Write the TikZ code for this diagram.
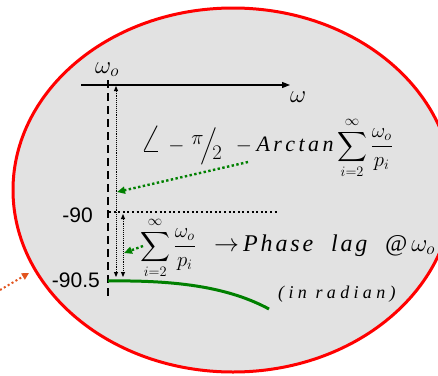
\documentclass[tikz,border=0pt]{standalone}
\usepackage{exscale}
\usepackage{fontspec}
\setmainfont{Liberation Serif}
\newfontfamily\labelfont{Liberation Sans}
\newfontfamily\widefont[LetterSpace=12]{Liberation Serif}
\newfontfamily\widerfont[LetterSpace=24]{Liberation Serif}
\usetikzlibrary{arrows.meta}
\definecolor{lagred}{RGB}{255,0,0}
\definecolor{laggreen}{RGB}{0,128,0}
\definecolor{callout}{RGB}{226,84,30}
\definecolor{paper}{RGB}{226,226,226}

\begin{document}
\begin{tikzpicture}
  [x=1pt,y=-1pt,every node/.style={inner sep=0pt,font=\fontsize{22}{26}\selectfont},
   axis/.style={line width=1.2pt,-{Triangle[length=8pt,width=6pt]}},
   marker/.style={line width=2.6pt,dash pattern=on 8pt off 5pt},
   level/.style={line width=2pt,dash pattern=on 2pt off 2.6pt},
   span/.style={line width=0.9pt,densely dotted,{Triangle[length=5pt,width=4pt]}-{Triangle[length=5pt,width=4pt]}},
   pointer/.style={laggreen,line width=2.4pt,dash pattern=on 2.4pt off 2.4pt,-{Triangle[length=8pt,width=7pt]}}]
\useasboundingbox (0,0) rectangle (438,375);
  % zoom bubble
  \draw[lagred,line width=3pt,fill=paper] (233,190) ellipse [x radius=220,y radius=182];
  \coordinate (cfrom) at (0,290);
  \coordinate (cto) at (29,273);
  \draw[callout,line width=2pt,dash pattern=on 2pt off 2.5pt,-{Triangle[length=7pt,width=7pt]}] (cfrom) -- (cto);

  % axes
  \coordinate (ax0) at (81,85);
  \coordinate (ax1) at (290,85);
  \coordinate (mtop) at (108,80);
  \coordinate (mbot) at (108,298);
  \draw[axis] (ax0) -- (ax1);
  \draw[marker] (mtop) -- (mbot);
  \node[anchor=base west,font=\fontsize{28}{30}\selectfont] (w) at (290,102) {$\omega$};
  \node[anchor=base west,font=\fontsize{26}{30}\selectfont] (wo) at (95,73) {$\omega_o$};

  % levels
  \node[anchor=base east,font=\labelfont\fontsize{21}{24}\selectfont] (l90) at (93,222) {-90};
  \node[anchor=base east,font=\labelfont\fontsize{21}{24}\selectfont] (l905) at (100,287) {-90.5};
  \coordinate (h0) at (109,212);
  \coordinate (h1) at (279,212);
  \draw[level] (h0) -- (h1);

  % spans
  \coordinate (s1a) at (116,86);
  \coordinate (s1b) at (116,277);
  \coordinate (s2a) at (123,214);
  \coordinate (s2b) at (123,277);
  \foreach \from/\to in {s1a/s1b, s2a/s2b}
    \draw[span] (\from) -- (\to);

  % phase curve
  \coordinate (c0) at (108,281);
  \coordinate (c1) at (269,309);
  \draw[laggreen,line width=3pt] (c0) .. controls (180,280) and (230,288) .. (c1);

  % texts
  \node[anchor=west] (arg) at (140,148)
    {$\displaystyle\scalebox{1.9}{$\angle$}\mkern2mu -\mkern2mu\raisebox{0.7ex}{$\pi$}\mkern-3mu\Big/\mkern-4mu\raisebox{-0.8ex}{$2$}\mkern8mu - \mathit{A\,r\,c\,t\,a\,n}\sum_{i=2}^{\infty}\frac{\omega_o}{p_i}$};
  \node[anchor=west] (lagsum) at (140,248) {$\displaystyle\sum_{i=2}^{\infty}\frac{\omega_o}{p_i}$};
  \node[anchor=base west,font=\fontsize{24}{28}\selectfont] (lag) at (214,251)
    {$\rightarrow$\,{\widefont\itshape Phase\ \ lag\ \ @}\,$\omega_o$};
  \node[anchor=base west,font=\fontsize{18}{22}\selectfont] (unit) at (278,298) {\widerfont\itshape (in radian)};

  % pointers
  \coordinate (p1a) at (248,162);
  \coordinate (p1b) at (117,192);
  \coordinate (p2a) at (143,246);
  \coordinate (p2b) at (124,253);
  \foreach \from/\to in {p1a/p1b, p2a/p2b}
    \draw[pointer] (\from) -- (\to);
\end{tikzpicture}
\end{document}
